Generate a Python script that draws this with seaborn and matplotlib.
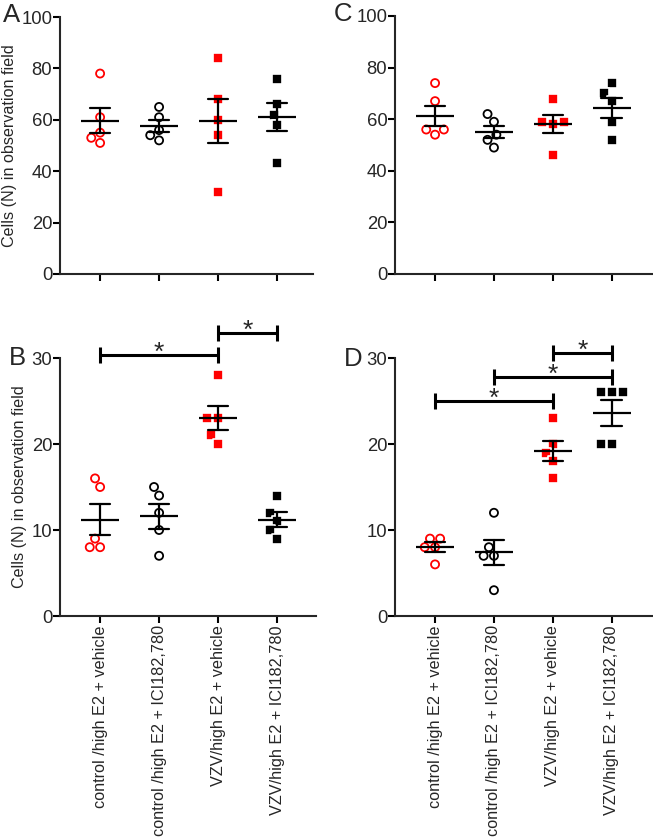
import numpy as np
import pandas as pd
import matplotlib
matplotlib.use("Agg")
import matplotlib.pyplot as plt
import seaborn as sns

sns.set_style("ticks")
plt.rcParams["font.family"] = ["Liberation Sans", "DejaVu Sans"]

groups = ["control /high E2 + vehicle", "control /high E2 + ICI182,780",
          "VZV/high E2 + vehicle", "VZV/high E2 + ICI182,780"]
group_colors = ["#ff0000", "#000000", "#ff0000", "#000000"]
group_markers = ["o", "o", "s", "s"]
group_filled = [False, False, True, True]

panel_A = [[78, 61, 55, 53, 51], [65, 61, 56, 54, 52], [84, 68, 60, 54, 32], [76, 66, 62, 58, 43]]
panel_C = [[74, 67, 56, 56, 54], [62, 59, 54, 52, 49], [68, 59, 59, 58, 46], [74, 70, 67, 59, 52]]
panel_B = [[16, 15, 9, 8, 8], [15, 14, 12, 10, 7], [28, 23, 23, 21, 20], [14, 12, 11, 10, 9]]
panel_D = [[9, 9, 8, 8, 6], [12, 8, 7, 7, 3], [23, 20, 19, 18, 16], [26, 26, 26, 20, 20]]

sig_B = [(0, 2, 30.3), (2, 3, 32.9)]
sig_D = [(0, 2, 25.05), (1, 3, 27.8), (2, 3, 30.6)]

ylabel = "Cells (N) in observation field"

W, H = 653, 838
fig = plt.figure(figsize=(W / 100, H / 100), dpi=100)


def make_ax(left, top, right, bottom):
    return fig.add_axes([left / W, 1 - bottom / H, (right - left) / W, (bottom - top) / H])


def to_df(values):
    rows = []
    for g, vals in zip(groups, values):
        for v in vals:
            rows.append({"group": g, "value": v})
    return pd.DataFrame(rows)


def draw_panel(ax, values, ymax, yticks, show_xlabels, show_ylabel, sigs, xlim):
    df = to_df(values)
    for i, g in enumerate(groups):
        sub = df[df["group"] == g]
        c = group_colors[i]
        if group_filled[i]:
            sns.swarmplot(data=sub, x="group", y="value", order=groups, ax=ax,
                          marker=group_markers[i], size=6.5, color=c,
                          edgecolor="white", linewidth=1.2, zorder=3)
        else:
            sns.swarmplot(data=sub, x="group", y="value", order=groups, ax=ax,
                          marker=group_markers[i], size=5.8, color=c,
                          facecolor="none", edgecolor=c, linewidth=1.3, zorder=3)
    sns.pointplot(data=df, x="group", y="value", order=groups, ax=ax,
                  errorbar="se", capsize=0.35, linestyle="none", marker="_",
                  markersize=28, markeredgewidth=1.6, color="black",
                  err_kws={"linewidth": 1.6}, zorder=4)
    ax.set_ylim(0, ymax)
    ax.set_yticks(yticks)
    ax.set_xlim(*xlim)
    ax.set_xticks(range(len(groups)))
    if show_xlabels:
        ax.set_xticklabels(groups, rotation=90, fontsize=11.7)
    else:
        ax.set_xticklabels([])
    ax.set_xlabel("")
    ax.set_ylabel(ylabel if show_ylabel else "", fontsize=11.6, labelpad=3)
    for s in ["top", "right"]:
        ax.spines[s].set_visible(False)
    for s in ["left", "bottom"]:
        ax.spines[s].set_linewidth(1.5)
    ax.tick_params(axis="y", direction="out", length=5, width=1.5,
                   labelsize=13.3, pad=0.5, color="black")
    ax.tick_params(axis="x", direction="out", length=5, width=1.5,
                   labelsize=11.7, pad=1.5, color="black")
    for x1, x2, y in sigs:
        ax.plot([x1, x2], [y, y], color="black", lw=2.2, marker="|",
                markersize=11, markeredgewidth=2.2, clip_on=False, zorder=5)
        ax.annotate("*", xy=((x1 + x2) / 2, y), xytext=(0, -3.5),
                    textcoords="offset points", ha="center", va="baseline",
                    fontsize=19, annotation_clip=False)


axA = make_ax(60, 17, 313, 274)
axC = make_ax(395, 16, 653, 274)
axB = make_ax(60, 358, 316, 616)
axD = make_ax(395, 358, 653, 616)

draw_panel(axA, panel_A, 100, [0, 20, 40, 60, 80, 100], False, True, [], (-0.68, 3.61))
draw_panel(axC, panel_C, 100, [0, 20, 40, 60, 80, 100], False, False, [], (-0.68, 3.70))
draw_panel(axB, panel_B, 30, [0, 10, 20, 30], True, True, sig_B, (-0.68, 3.66))
draw_panel(axD, panel_D, 30, [0, 10, 20, 30], True, False, sig_D, (-0.68, 3.70))

for letter, x, y in [("A", 3, 22), ("C", 334, 21), ("B", 9, 365), ("D", 344, 366)]:
    fig.text(x / W, 1 - y / H, letter, fontsize=18.5, ha="left", va="baseline")

fig.savefig("out.png", dpi=100)
